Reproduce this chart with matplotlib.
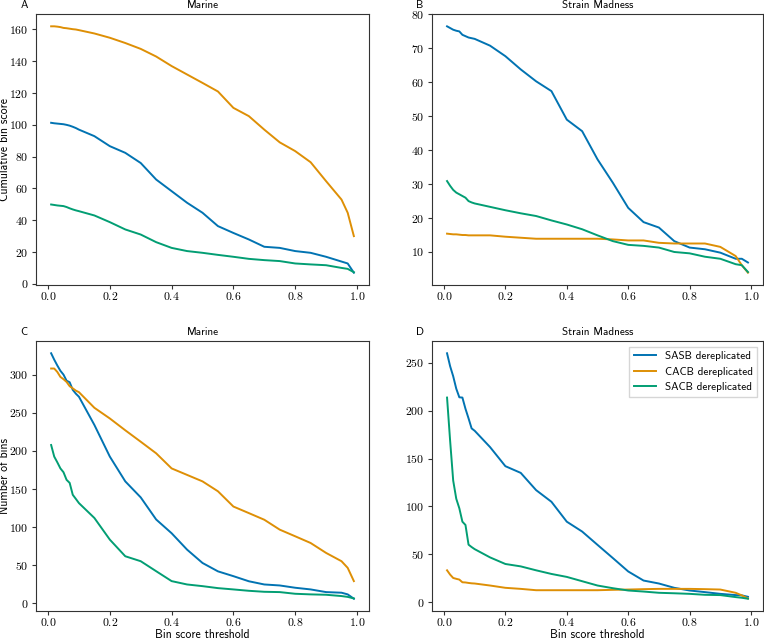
import matplotlib
matplotlib.use('Agg')
import matplotlib.pyplot as plt

plt.rcParams['font.family'] = ['cmss10', 'DejaVu Sans']
plt.rcParams['mathtext.fontset'] = 'cm'
plt.rcParams['font.size'] = 8

BLUE = '#0173B2'
ORANGE = '#DE8F05'
GREEN = '#029E73'

# bin score thresholds
thresholds = [0.01, 0.02, 0.03, 0.04, 0.05, 0.06, 0.07, 0.08, 0.09, 0.10,
              0.15, 0.20, 0.25, 0.30, 0.35, 0.40, 0.45, 0.50, 0.55, 0.60,
              0.65, 0.70, 0.75, 0.80, 0.85, 0.90, 0.95, 0.97, 0.99]

# A - Marine, cumulative bin score
marine_score_sasb = [101.3, 101, 100.8, 100.6, 100.4, 100, 99.5, 98.8, 98, 97,
                     92.9, 86.6, 82.4, 76, 65.6, 58.3, 51, 44.7, 36.3, 32,
                     27.9, 23.3, 22.6, 20.6, 19.5, 17, 14, 12.8, 7]
marine_score_cacb = [162, 162, 161.8, 161.5, 161, 160.8, 160.5, 160.2, 160, 159.6,
                     157.5, 154.8, 151.5, 147.8, 143, 137, 131.7, 126.4, 121, 110.7,
                     105.5, 97, 89, 83.5, 76.5, 64.6, 53, 44.7, 30]
marine_score_sacb = [49.9, 49.6, 49.3, 49.1, 48.9, 48.3, 47.5, 46.8, 46.2, 45.7,
                     43, 38.8, 34.2, 31, 26.2, 22.6, 20.6, 19.5, 18.2, 17,
                     15.7, 14.9, 14.3, 12.8, 12.2, 11.7, 10, 9.4, 7.3]

# B - Strain Madness, cumulative bin score
strain_score_sasb = [76.5, 76, 75.5, 75.2, 75, 74, 73.6, 73.2, 73, 72.8,
                     70.8, 67.7, 63.8, 60.3, 57.4, 49, 45.6, 37.3, 30.4, 23,
                     18.8, 17.2, 13.2, 11.3, 10.8, 9.8, 8, 8, 6.9]
strain_score_cacb = [15.4, 15.3, 15.2, 15.2, 15.1, 15.0, 15.0, 14.9, 14.9, 14.9,
                     14.9, 14.5, 14.2, 13.9, 13.9, 13.9, 13.9, 13.9, 13.7, 13.4,
                     13.4, 12.7, 12.5, 12.5, 12.5, 11.5, 8.8, 6.1, 3.9]
strain_score_sacb = [30.9, 29.5, 28.3, 27.5, 27, 26.5, 26, 25, 24.6, 24.3,
                     23.3, 22.3, 21.4, 20.6, 19.3, 18.1, 16.7, 14.9, 13.2, 12.1,
                     11.8, 11.3, 10, 9.6, 8.6, 8, 6.4, 6.1, 4.1]

# C - Marine, number of bins
marine_bins_sasb = [328, 319.6, 312, 305, 300, 292, 290, 280, 275, 271,
                    234, 192.5, 160, 139, 110, 92, 70.5, 53, 42, 35.7,
                    29, 24.8, 23.5, 20.5, 18.3, 14.8, 14, 11.8, 6.1]
marine_bins_cacb = [308, 308, 303.5, 297, 294, 290.4, 284.8, 282, 279, 277,
                    256.5, 242.5, 227, 212, 196.8, 177, 168.5, 160, 147, 127,
                    118.4, 109.7, 96.7, 88, 79.2, 66.2, 55.3, 46.6, 29.2]
marine_bins_sacb = [207.7, 192.5, 185, 177, 172, 162, 158, 142.4, 137, 131.5,
                    112, 83.6, 61.8, 55.3, 42.2, 29.2, 24.8, 22.6, 20, 18.3,
                    16.5, 15.2, 14.8, 12.6, 11.8, 11.3, 9.6, 8.5, 6.5]

# D - Strain Madness, number of bins
strain_bins_sasb = [260, 246.5, 236, 223, 214, 213.7, 202, 192, 181.5, 179,
                    162, 142, 135, 117, 104.8, 84, 73.7, 59.8, 46, 32,
                    22.5, 19.4, 14.9, 12.1, 10.4, 8.6, 7.3, 7, 5.5]
strain_bins_cacb = [33.2, 28.7, 25.2, 24.3, 23.5, 20.7, 20.5, 20, 19.6, 19.4,
                    17.3, 14.9, 13.8, 12.4, 12.4, 12.4, 12.4, 12.4, 12.8, 13.1,
                    13.5, 13.8, 13.8, 13.8, 13.5, 13.1, 9.7, 7, 3.8]
strain_bins_sacb = [213.7, 168.7, 127, 108, 98, 84, 80.6, 60, 57.5, 55.3,
                    46.7, 39.8, 37.3, 33.2, 29.4, 26.3, 21.8, 17.3, 14.5, 12.1,
                    11, 9.7, 9.2, 8.6, 7.6, 7.3, 5.2, 4.5, 3.5]

labels = ['SASB dereplicated', 'CACB dereplicated', 'SACB dereplicated']
colors = [BLUE, ORANGE, GREEN]
xticks = [0.0, 0.2, 0.4, 0.6, 0.8, 1.0]

panels = [
    ('A', 'Marine', [marine_score_sasb, marine_score_cacb, marine_score_sacb],
     [36, 14, 369, 285], range(0, 161, 20)),
    ('B', 'Strain Madness', [strain_score_sasb, strain_score_cacb, strain_score_sacb],
     [432, 14, 763, 285], range(10, 81, 10)),
    ('C', 'Marine', [marine_bins_sasb, marine_bins_cacb, marine_bins_sacb],
     [36, 341, 369, 611], range(0, 301, 50)),
    ('D', 'Strain Madness', [strain_bins_sasb, strain_bins_cacb, strain_bins_sacb],
     [432, 341, 763, 611], range(0, 251, 50)),
]

W, H = 764, 640
fig = plt.figure(figsize=(W / 100, H / 100), dpi=100)

axes = {}
for letter, title, series, (x0, y0, x1, y1), yticks in panels:
    ax = fig.add_axes([x0 / W, 1 - y1 / H, (x1 - x0) / W, (y1 - y0) / H])
    for vals, lab, col in zip(series, labels, colors):
        ax.plot(thresholds, vals, color=col, lw=1.4, label=lab)
    ax.set_xticks(xticks)
    ax.set_xticklabels([f'${t:.1f}$' for t in xticks], fontsize=8.5)
    ax.set_yticks(list(yticks))
    ax.set_yticklabels([f'${t}$' for t in yticks], fontsize=8.5)
    ax.tick_params(color='#333333', length=3, width=0.8, pad=2.5)
    ax.tick_params(axis='x', pad=1.5)
    for sp in ax.spines.values():
        sp.set_color('#333333')
    ax.set_title(title, fontsize=8, pad=4)
    ax.text(-0.047, 1.015, letter, transform=ax.transAxes, fontsize=8,
            ha='left', va='bottom')
    axes[letter] = ax

axes['A'].set_ylabel('Cumulative bin score', fontsize=8.5)
axes['C'].set_ylabel('Number of bins', fontsize=8.5)
axes['A'].yaxis.set_label_coords(-0.075, 0.5)
axes['C'].yaxis.set_label_coords(-0.075, 0.5)
for k in ['C', 'D']:
    axes[k].set_xlabel('Bin score threshold', fontsize=8.5)
    axes[k].xaxis.set_label_coords(0.5, -0.068)
axes['D'].legend(loc='upper right', fancybox=False, edgecolor='#cccccc',
                 fontsize=8)

fig.savefig('out.png', dpi=100)
